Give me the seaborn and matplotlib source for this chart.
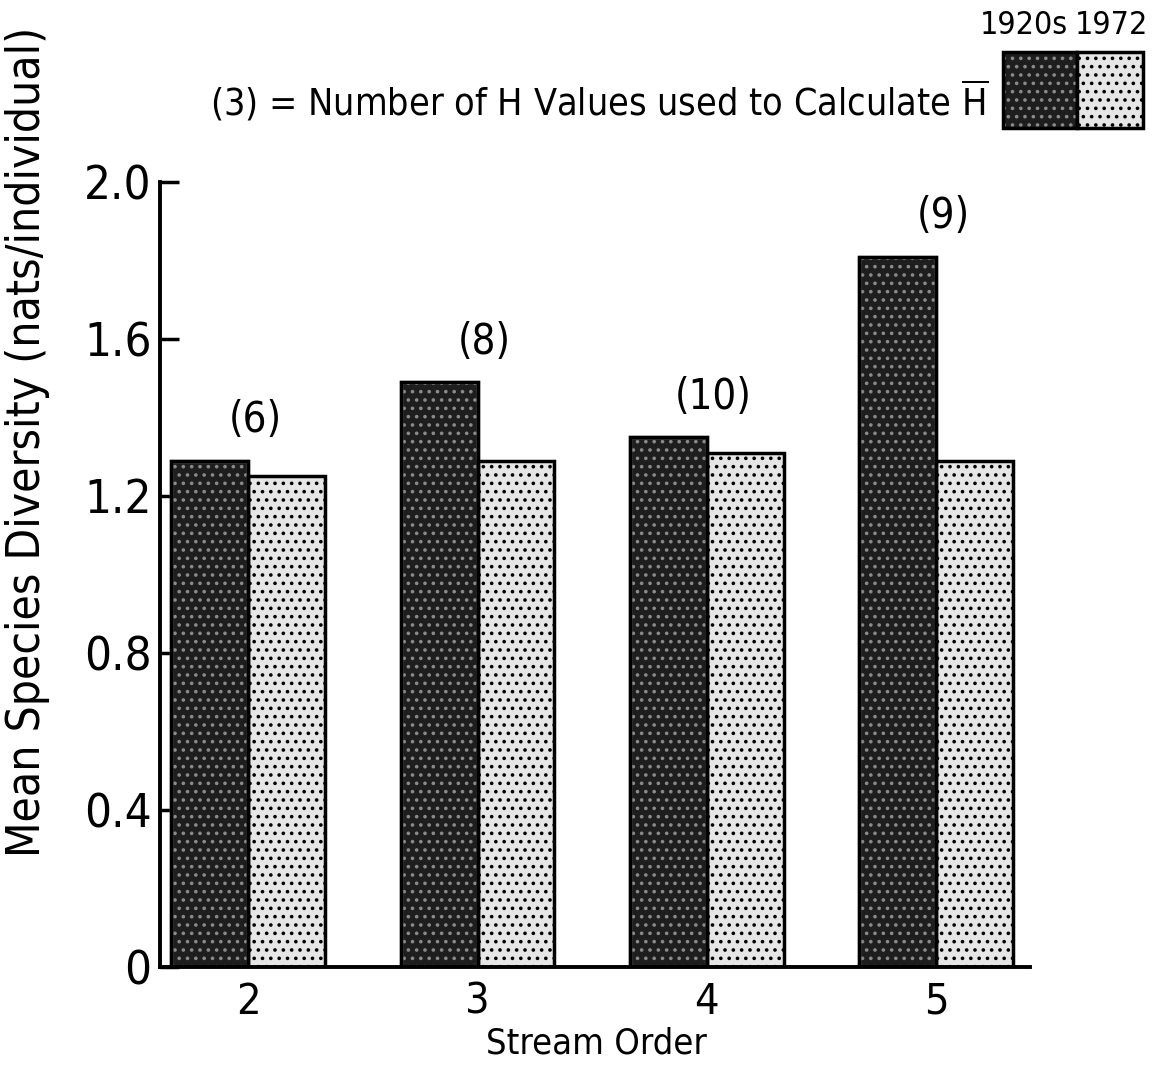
import matplotlib
matplotlib.use("Agg")
import matplotlib.pyplot as plt
import seaborn as sns
import pandas as pd
from matplotlib.patches import Rectangle

stream_order = ["2", "3", "4", "5"]
h_1920s = [1.29, 1.49, 1.35, 1.81]
h_1972 = [1.25, 1.29, 1.31, 1.29]
n_values = ["(6)", "(8)", "(10)", "(9)"]
periods = ["1920s", "1972"]
y_ticks = [0, 0.4, 0.8, 1.2, 1.6, 2.0]
y_tick_labels = ["0", "0.4", "0.8", "1.2", "1.6", "2.0"]

df = pd.DataFrame({
    "Stream Order": stream_order * 2,
    "H": h_1920s + h_1972,
    "Period": [periods[0]] * 4 + [periods[1]] * 4,
})

sns.set_style("white")
plt.rcParams["font.family"] = ["DejaVu Sans"]
plt.rcParams["font.stretch"] = "condensed"
plt.rcParams["hatch.linewidth"] = 1.4
for k in ["text.color", "axes.labelcolor", "xtick.color", "ytick.color"]:
    plt.rcParams[k] = "black"

fig = plt.figure(figsize=(11.63, 10.75), dpi=100)
ax = fig.add_axes([0.1376, 0.1005, 0.748, 0.7302])

dark = "#1e1e1e"
light = "#e6e6e6"
sns.barplot(data=df, x="Stream Order", y="H", hue="Period",
            palette={"1920s": dark, "1972": light}, width=0.67,
            edgecolor="black", linewidth=2.5, legend=False, ax=ax,
            saturation=1)

# stipple textures: light dots on dark bars, dark dots on light bars
for bar in ax.containers[0]:
    bar.set_hatch("..")
    bar.set_edgecolor("#8a8a8a")
    ax.add_patch(Rectangle(bar.get_xy(), bar.get_width(), bar.get_height(),
                           fill=False, edgecolor="black", linewidth=2.5, zorder=bar.get_zorder() + 0.1))
for bar in ax.containers[1]:
    bar.set_hatch("..")

ax.set_ylim(0, 2.0)
ax.set_xlim(-0.385, 3.41)
ax.set_yticks(y_ticks)
ax.set_yticklabels(y_tick_labels, fontsize=34, fontstretch="condensed")
ax.set_xticks(range(4))
ax.set_xticklabels(stream_order, fontsize=31, fontstretch="condensed")
ax.tick_params(axis="y", direction="in", length=14, width=2.5, pad=6, left=True)
ax.tick_params(axis="x", length=0, pad=10)

for s in ["top", "right"]:
    ax.spines[s].set_visible(False)
for s in ["left", "bottom"]:
    ax.spines[s].set_linewidth(2.8)
    ax.spines[s].set_color("black")

ax.set_ylabel("Mean Species Diversity (nats/individual)", fontsize=33,
              fontstretch="condensed")
ax.yaxis.set_label_coords(-0.126, 0.669)
ax.set_xlabel("Stream Order", fontsize=26, fontstretch="condensed")
ax.xaxis.set_label_coords(0.502, -0.076)

for i, lab in enumerate(n_values):
    top = max(h_1920s[i], h_1972[i])
    ax.annotate(lab, xy=(i + 0.03, top), xytext=(0, 14), textcoords="offset points",
                ha="center", va="bottom", fontsize=30, fontstretch="condensed")

# legend block
fig.text(0.850, 0.906, r"(3) = Number of H Values used to Calculate $\overline{\mathrm{H}}$",
         ha="right", va="center", fontsize=27, fontstretch="condensed")
lx0, lw, ly0, lh = 1003 / 1163, 74 / 1163, 1 - 128 / 1075, 76 / 1075
fig.patches.append(Rectangle((lx0, ly0), lw, lh, transform=fig.transFigure,
                             facecolor=dark, edgecolor="#8a8a8a", linewidth=0, hatch=".."))
fig.patches.append(Rectangle((lx0, ly0), lw, lh, transform=fig.transFigure,
                             fill=False, edgecolor="black", linewidth=2.5))
fig.patches.append(Rectangle((lx0 + lw, ly0), lw - 8 / 1163, lh, transform=fig.transFigure,
                             facecolor=light, edgecolor="black", linewidth=2.5, hatch=".."))
fig.text(1024 / 1163, 1 - 25 / 1075, periods[0], ha="center", va="center",
         fontsize=23, fontstretch="condensed")
fig.text(1112 / 1163, 1 - 25 / 1075, periods[1], ha="center",
         va="center", fontsize=23, fontstretch="condensed")

fig.savefig("out.png", dpi=100, facecolor="white")
